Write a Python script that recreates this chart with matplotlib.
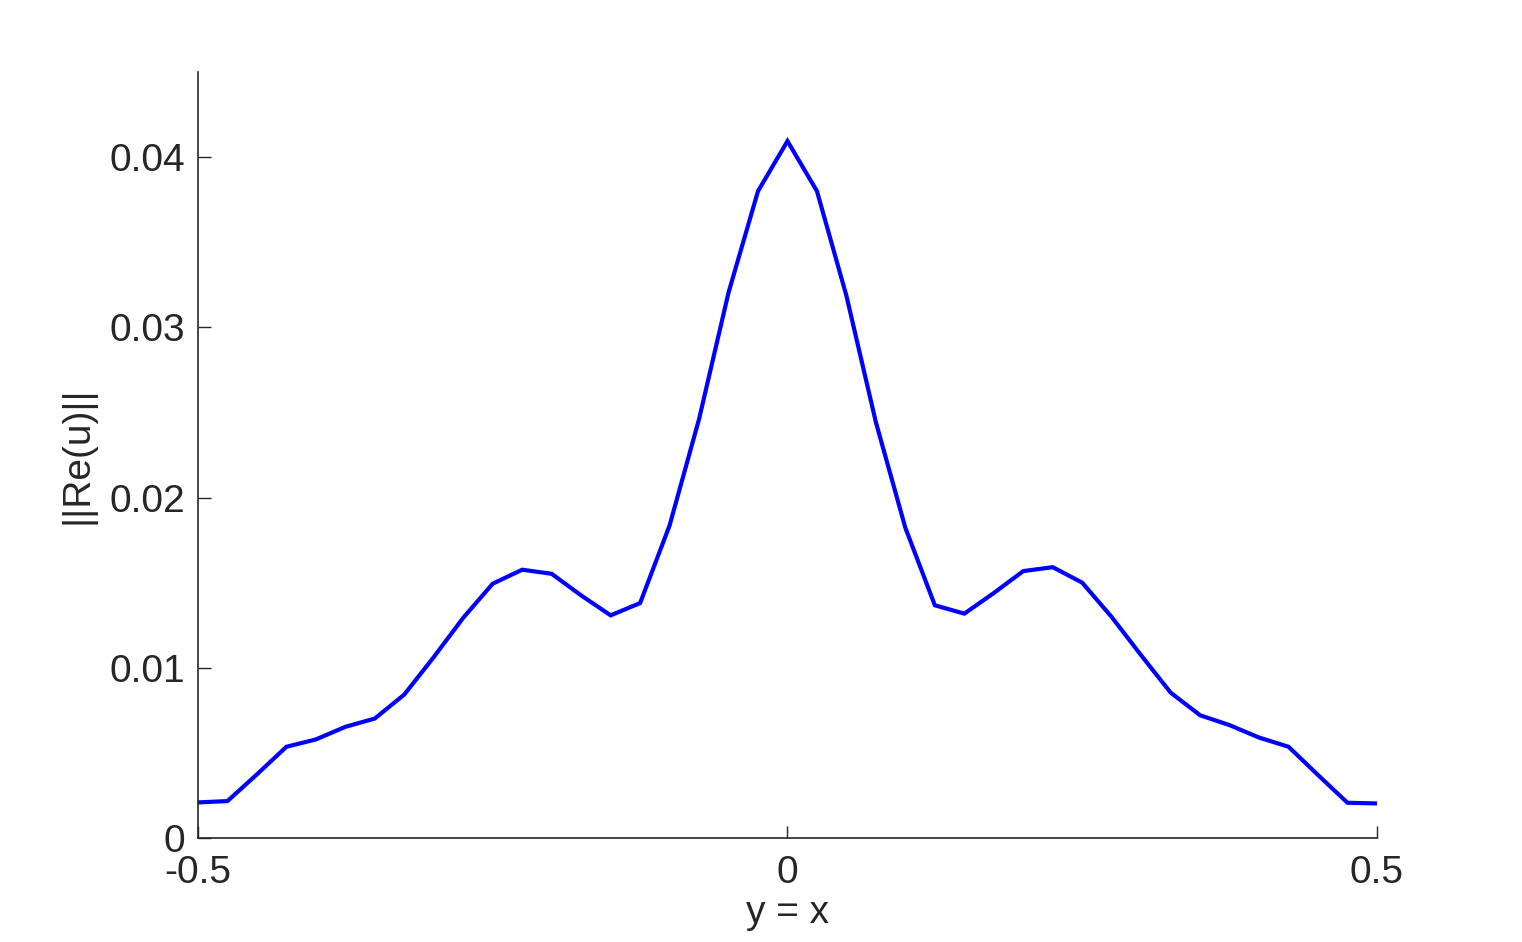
import numpy as np
import matplotlib
matplotlib.use("Agg")
import matplotlib.pyplot as plt

# sample points along the diagonal y = x
x_vals = np.linspace(-0.5, 0.5, 41)
norm_re_u = [
    0.00209, 0.00217, 0.00374, 0.00536, 0.00579, 0.00653, 0.00702, 0.00843,
    0.01063, 0.01294, 0.01494, 0.01576, 0.01552, 0.01425, 0.01308, 0.01380,
    0.01836, 0.02461, 0.03204, 0.03800, 0.04094, 0.03800, 0.03185, 0.02442,
    0.01822, 0.01367, 0.01318, 0.01439, 0.01568, 0.01591, 0.01500, 0.01298,
    0.01073, 0.00854, 0.00721, 0.00663, 0.00590, 0.00536, 0.00370, 0.00207,
    0.00203,
]
x_ticks = [-0.5, 0, 0.5]
x_tick_labels = ["-0.5", "0", "0.5"]
y_ticks = [0, 0.01, 0.02, 0.03, 0.04]
y_tick_labels = ["0", "0.01", "0.02", "0.03", "0.04"]

plt.rcParams['font.family'] = ['Liberation Sans', 'DejaVu Sans']
text_col = '#262626'
fsize = 28

fig = plt.figure(figsize=(15.22, 9.42), dpi=100)
ax = fig.add_axes([0.1301, 0.1104, 0.7746, 0.8132])

ax.plot(x_vals, norm_re_u, color='#0000ff', lw=3, solid_joinstyle='miter')

ax.set_xlim(-0.5, 0.5)
ax.set_ylim(0, 0.045)
ax.set_xticks(x_ticks)
ax.set_xticklabels(x_tick_labels)
ax.set_yticks(y_ticks)
ax.set_yticklabels(y_tick_labels)

for side in ['top', 'right']:
    ax.spines[side].set_visible(False)
for side in ['left', 'bottom']:
    ax.spines[side].set_color(text_col)
    ax.spines[side].set_linewidth(1.2)

ax.tick_params(direction='in', length=9, width=1.0, colors=text_col,
               labelsize=fsize)
ax.tick_params(axis='y', pad=9)
ax.tick_params(axis='x', pad=12)

ax.set_xlabel("y = x", fontsize=fsize, color=text_col, labelpad=3)
ax.set_ylabel("||Re(u)||", fontsize=fsize, color=text_col, labelpad=10)

fig.savefig("out.png", dpi=100)
